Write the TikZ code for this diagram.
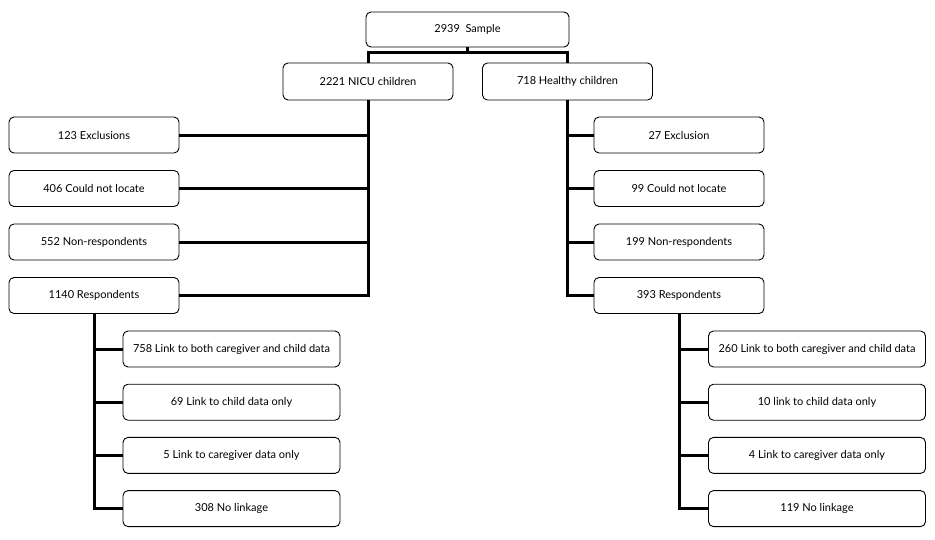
\documentclass[tikz,border=0pt]{standalone}
\usepackage{fontspec}
\setmainfont{Lato}
\usepackage{tikz}
\usetikzlibrary{positioning}
\tikzset{
	box/.style={draw, line width=0.9pt, outer sep=0pt, rounded corners=5pt, minimum width=170pt, minimum height=36pt, inner sep=2pt, font=\fontsize{11}{13}\selectfont},
	wide/.style={minimum width=217pt},
	link/.style={line width=3pt}
}

\begin{document}
\begin{tikzpicture}
		\useasboundingbox (0,0) rectangle (935pt,-539pt);

		% Define nodes
		\node[box, minimum width=203pt, minimum height=35pt] (S) at (467.5pt,-29.5pt) {2939~ Sample};
		\node[box, below=16pt of S, xshift=-99.5pt, minimum height=37pt] (N) {2221 NICU children};
		\node[box, below=16pt of S, xshift=100pt, minimum height=37pt] (H) {718 Healthy children};

		\node[box, below=17pt of N, xshift=-274pt] (NE) {123 Exclusions};
		\node[box, below=17.5pt of NE] (NL) {406 Could not locate};
		\node[box, below=17.5pt of NL] (NN) {552 Non-respondents};
		\node[box, below=17.5pt of NN] (NR) {1140 Respondents};

		\node[box, wide, below=17.5pt of NR, xshift=137.5pt] (NB) {758 Link to both caregiver and child data};
		\node[box, wide, below=17.2pt of NB] (NC) {69 Link to child data only};
		\node[box, wide, below=17.2pt of NC] (NG) {5 Link to caregiver data only};
		\node[box, wide, below=17.2pt of NG] (NX) {308 No linkage};

		\node[box, below=17pt of H, xshift=111.5pt] (HE) {27 Exclusion};
		\node[box, below=17.5pt of HE] (HL) {99 Could not locate};
		\node[box, below=17.5pt of HL] (HN) {199 Non-respondents};
		\node[box, below=17.5pt of HN] (HR) {393 Respondents};

		\node[box, wide, below=17.5pt of HR, xshift=138pt] (HB) {260 Link to both caregiver and child data};
		\node[box, wide, below=17.2pt of HB] (HC) {10 link to child data only};
		\node[box, wide, below=17.2pt of HC] (HG) {4 Link to caregiver data only};
		\node[box, wide, below=17.2pt of HG] (HX) {119 No linkage};

		% Connect the nodes
		\draw[link] (S.south) -- ++(0,-5pt) coordinate (split);
		\draw[link] (split) -| (N.north);
		\draw[link] (split) -| (H.north);

		\foreach \n in {NE,NL,NN,NR}
			\draw[link] (N.south) |- (\n.east);
		\foreach \n in {HE,HL,HN,HR}
			\draw[link] (H.south) |- (\n.west);

		\foreach \n in {NB,NC,NG,NX}
			\draw[link] (NR.south) |- (\n.west);
		\foreach \n in {HB,HC,HG,HX}
			\draw[link] (HR.south) |- (\n.west);

	\end{tikzpicture}
\end{document}
